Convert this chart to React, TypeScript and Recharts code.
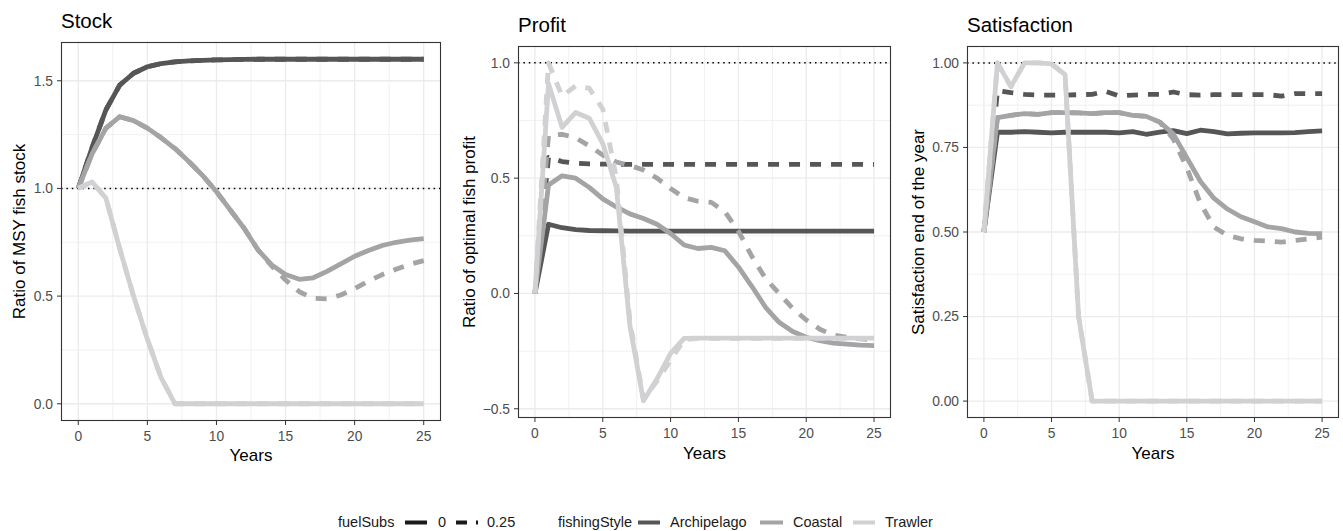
import { LineChart, Line, XAxis, YAxis, CartesianGrid, ReferenceLine } from "recharts";

const years = [0, 1, 2, 3, 4, 5, 6, 7, 8, 9, 10, 11, 12, 13, 14, 15, 16, 17, 18, 19, 20, 21, 22, 23, 24, 25];

// Stock (ratio of MSY fish stock)
const stockArch0 = [1.0, 1.19, 1.365, 1.48, 1.535, 1.565, 1.58, 1.588, 1.592, 1.595, 1.597, 1.598, 1.599, 1.6, 1.6, 1.6, 1.6, 1.6, 1.6, 1.6, 1.6, 1.6, 1.6, 1.6, 1.6, 1.6];
const stockArch25 = [1.0, 1.19, 1.365, 1.48, 1.535, 1.565, 1.58, 1.588, 1.592, 1.595, 1.597, 1.598, 1.599, 1.6, 1.6, 1.6, 1.6, 1.6, 1.6, 1.6, 1.6, 1.6, 1.6, 1.6, 1.6, 1.6];
const stockCoast0 = [1.0, 1.16, 1.28, 1.333, 1.315, 1.28, 1.235, 1.185, 1.125, 1.06, 0.985, 0.9, 0.815, 0.715, 0.645, 0.6, 0.578, 0.585, 0.615, 0.65, 0.685, 0.712, 0.735, 0.75, 0.76, 0.767];
const stockCoast25 = [1.0, 1.16, 1.28, 1.333, 1.315, 1.28, 1.235, 1.185, 1.125, 1.06, 0.985, 0.9, 0.815, 0.715, 0.64, 0.575, 0.52, 0.49, 0.487, 0.505, 0.535, 0.57, 0.6, 0.625, 0.648, 0.665];
const stockTrawl0 = [1.0, 1.03, 0.955, 0.72, 0.5, 0.3, 0.12, 0.0, 0, 0, 0, 0, 0, 0, 0, 0, 0, 0, 0, 0, 0, 0, 0, 0, 0, 0];
const stockTrawl25 = [1.0, 1.03, 0.955, 0.72, 0.5, 0.3, 0.12, 0.0, 0, 0, 0, 0, 0, 0, 0, 0, 0, 0, 0, 0, 0, 0, 0, 0, 0, 0];

// Profit (ratio of optimal fish profit)
const profitArch0 = [0, 0.3, 0.285, 0.277, 0.273, 0.272, 0.271, 0.27, 0.27, 0.27, 0.27, 0.27, 0.27, 0.27, 0.27, 0.27, 0.27, 0.27, 0.27, 0.27, 0.27, 0.27, 0.27, 0.27, 0.27, 0.27];
const profitArch25 = [0, 0.59, 0.572, 0.565, 0.562, 0.561, 0.56, 0.56, 0.56, 0.56, 0.56, 0.56, 0.56, 0.56, 0.56, 0.56, 0.56, 0.56, 0.56, 0.56, 0.56, 0.56, 0.56, 0.56, 0.56, 0.56];
const profitCoast0 = [0, 0.47, 0.51, 0.5, 0.46, 0.41, 0.375, 0.345, 0.325, 0.3, 0.26, 0.21, 0.195, 0.2, 0.185, 0.115, 0.03, -0.06, -0.125, -0.165, -0.19, -0.205, -0.215, -0.22, -0.224, -0.226];
const profitCoast25 = [0, 0.685, 0.69, 0.675, 0.64, 0.6, 0.57, 0.555, 0.535, 0.5, 0.455, 0.415, 0.4, 0.395, 0.355, 0.27, 0.16, 0.065, 0.0, -0.065, -0.115, -0.155, -0.18, -0.19, -0.197, -0.2];
const profitTrawl0 = [0, 0.91, 0.72, 0.785, 0.76, 0.65, 0.46, -0.14, -0.465, -0.37, -0.26, -0.195, -0.194, -0.194, -0.194, -0.194, -0.194, -0.194, -0.194, -0.194, -0.194, -0.194, -0.194, -0.194, -0.194, -0.194];
const profitTrawl25 = [0, 1.0, 0.855, 0.9, 0.89, 0.8, 0.5, -0.12, -0.46, -0.38, -0.29, -0.2, -0.195, -0.195, -0.195, -0.195, -0.195, -0.195, -0.195, -0.195, -0.195, -0.195, -0.195, -0.195, -0.195, -0.195];

// Satisfaction end of the year
const satArch0 = [0.5, 0.795, 0.795, 0.797, 0.795, 0.793, 0.795, 0.795, 0.795, 0.795, 0.793, 0.797, 0.789, 0.795, 0.8, 0.791, 0.801, 0.797, 0.79, 0.792, 0.793, 0.793, 0.793, 0.794, 0.797, 0.799];
const satArch25 = [0.5, 0.918, 0.912, 0.907, 0.905, 0.905, 0.905, 0.906, 0.907, 0.916, 0.902, 0.905, 0.907, 0.907, 0.914, 0.906, 0.905, 0.906, 0.906, 0.906, 0.906, 0.906, 0.902, 0.909, 0.909, 0.909];
const satCoast0 = [0.5, 0.838, 0.845, 0.85, 0.848, 0.853, 0.853, 0.852, 0.85, 0.853, 0.853, 0.845, 0.842, 0.825, 0.79, 0.72, 0.65, 0.6, 0.568, 0.545, 0.53, 0.515, 0.51, 0.5, 0.496, 0.495];
const satCoast25 = [0.5, 0.838, 0.845, 0.85, 0.848, 0.853, 0.853, 0.852, 0.85, 0.853, 0.853, 0.845, 0.842, 0.825, 0.775, 0.69, 0.585, 0.515, 0.49, 0.48, 0.475, 0.473, 0.47, 0.475, 0.48, 0.485];
const satTrawl0 = [0.5, 1.0, 0.93, 1.0, 1.0, 0.997, 0.965, 0.25, 0.0, 0, 0, 0, 0, 0, 0, 0, 0, 0, 0, 0, 0, 0, 0, 0, 0, 0];
const satTrawl25 = [0.5, 1.0, 0.93, 1.0, 1.0, 0.997, 0.965, 0.25, 0.0, 0, 0, 0, 0, 0, 0, 0, 0, 0, 0, 0, 0, 0, 0, 0, 0, 0];

const xTicks = [0, 5, 10, 15, 20, 25];
const xMinor = [2.5, 7.5, 12.5, 17.5, 22.5];

const ARCH = "#565656";
const COAST = "#a4a4a6";
const TRAWL = "#d1d1d3";
const FONT = '"Liberation Sans", Arial, Helvetica, sans-serif';
const LW = 4.8;

function rows(a0: number[], a25: number[], c0: number[], c25: number[], t0: number[], t25: number[]) {
  return years.map((year, i) => ({
    year,
    a0: a0[i], a25: a25[i], c0: c0[i], c25: c25[i], t0: t0[i], t25: t25[i],
  }));
}

interface PanelProps {
  data: ReturnType<typeof rows>;
  left: number;
  plotTop: number;
  plotBottom: number;
  plotRight: number;
  domain: [number, number];
  ticks: number[];
  minor: number[];
  fmt: (v: number) => string;
}

const Y_W = 60;
const X_H = 30;

function Panel({ data, left, plotTop, plotBottom, plotRight, domain, ticks, minor, fmt }: PanelProps) {
  const width = plotRight + 2 - left;
  const height = plotBottom + X_H;
  const dash = "11 10";
  return (
    <div style={{ position: "absolute", left, top: 0 }}>
      <LineChart width={width} height={height} data={data} margin={{ top: plotTop, right: 2, bottom: 0, left: 0 }}>
        <CartesianGrid stroke="#ebebeb" strokeWidth={0.7} horizontalValues={minor} verticalValues={xMinor} />
        <CartesianGrid stroke="#ebebeb" strokeWidth={1.3} horizontalValues={ticks} verticalValues={xTicks} />
        <XAxis
          type="number"
          dataKey="year"
          domain={[-1.25, 26.25]}
          ticks={xTicks}
          allowDataOverflow
          axisLine={false}
          tickSize={4}
          tickMargin={6}
          height={X_H}
          tickLine={{ stroke: "#333333" }}
          tick={{ fill: "#4d4d4d", fontSize: 13.8, fontFamily: FONT }}
        />
        <YAxis
          type="number"
          domain={domain}
          ticks={ticks}
          allowDataOverflow
          axisLine={false}
          width={Y_W}
          tickSize={4}
          tickMargin={4}
          tickFormatter={fmt}
          tickLine={{ stroke: "#333333" }}
          tick={{ fill: "#4d4d4d", fontSize: 13.8, fontFamily: FONT }}
        />
        <ReferenceLine y={1} stroke="#000" strokeWidth={1.5} strokeDasharray="1.5 3.9" />
        <Line type="linear" dataKey="a0" stroke={ARCH} strokeWidth={LW} dot={false} isAnimationActive={false} strokeLinejoin="round" />
        <Line type="linear" dataKey="a25" stroke={ARCH} strokeWidth={LW} strokeDasharray={dash} dot={false} isAnimationActive={false} strokeLinejoin="round" />
        <Line type="linear" dataKey="c0" stroke={COAST} strokeWidth={LW} dot={false} isAnimationActive={false} strokeLinejoin="round" />
        <Line type="linear" dataKey="c25" stroke={COAST} strokeWidth={LW} strokeDasharray={dash} dot={false} isAnimationActive={false} strokeLinejoin="round" />
        <Line type="linear" dataKey="t0" stroke={TRAWL} strokeWidth={LW} dot={false} isAnimationActive={false} strokeLinejoin="round" />
        <Line type="linear" dataKey="t25" stroke={TRAWL} strokeWidth={LW} strokeDasharray={dash} dot={false} isAnimationActive={false} strokeLinejoin="round" />
      </LineChart>
    </div>
  );
}

const minus = (s: string) => s.replace("-", "\u2212");

export default function App() {
  const stock = rows(stockArch0, stockArch25, stockCoast0, stockCoast25, stockTrawl0, stockTrawl25);
  const profit = rows(profitArch0, profitArch25, profitCoast0, profitCoast25, profitTrawl0, profitTrawl25);
  const sat = rows(satArch0, satArch25, satCoast0, satCoast25, satTrawl0, satTrawl25);

  return (
    <div style={{ position: "absolute", left: 0, top: 0, width: 1343, height: 531, background: "#fff", fontFamily: FONT }}>
      <Panel data={stock} left={61 - Y_W} plotTop={42} plotBottom={421} plotRight={441}
        domain={[-0.08, 1.68]} ticks={[0, 0.5, 1, 1.5]} minor={[0.25, 0.75, 1.25]} fmt={(v) => v.toFixed(1)} />
      <Panel data={profit} left={518 - Y_W} plotTop={46} plotBottom={418} plotRight={891}
        domain={[-0.54, 1.073]} ticks={[-0.5, 0, 0.5, 1]} minor={[-0.25, 0.25, 0.75]} fmt={(v) => minus(v.toFixed(1))} />
      <Panel data={sat} left={967 - Y_W} plotTop={46} plotBottom={418} plotRight={1339}
        domain={[-0.05, 1.05]} ticks={[0, 0.25, 0.5, 0.75, 1]} minor={[0.125, 0.375, 0.625, 0.875]} fmt={(v) => v.toFixed(2)} />

      <svg width={1343} height={531} style={{ position: "absolute", left: 0, top: 0, pointerEvents: "none" }} fontFamily={FONT}>
        {/* panel borders */}
        <rect x={61.5} y={42.5} width={379} height={378} fill="none" stroke="#333" strokeWidth={1.1} />
        <rect x={518.5} y={46.5} width={372} height={371} fill="none" stroke="#333" strokeWidth={1.1} />
        <rect x={967.5} y={46.5} width={371} height={371} fill="none" stroke="#333" strokeWidth={1.1} />

        <text x={61} y={28.3} fontSize={20.5} fill="#000">Stock</text>
        <text x={518} y={32.3} fontSize={20.5} fill="#000">Profit</text>
        <text x={967} y={32.3} fontSize={20.5} fill="#000">Satisfaction</text>

        <text x={251} y={460.5} fontSize={17} textAnchor="middle" fill="#000">Years</text>
        <text x={704.5} y={458.5} fontSize={17} textAnchor="middle" fill="#000">Years</text>
        <text x={1153} y={458.5} fontSize={17} textAnchor="middle" fill="#000">Years</text>

        <text x={25} y={231.5} fontSize={17} textAnchor="middle" fill="#000" transform="rotate(-90 25 231.5)">Ratio of MSY fish stock</text>
        <text x={474.5} y={232} fontSize={17} textAnchor="middle" fill="#000" transform="rotate(-90 474.5 232)">Ratio of optimal fish profit</text>
        <text x={923.5} y={232} fontSize={17} textAnchor="middle" fill="#000" transform="rotate(-90 923.5 232)">Satisfaction end of the year</text>

        {/* legend */}
        <g fontSize={14.5} fill="#1a1a1a">
          <text x={338} y={527}>fuelSubs</text>
          <line x1={405} x2={427} y1={522.5} y2={522.5} stroke="#1a1a1a" strokeWidth={4} />
          <text x={438} y={527}>0</text>
          <line x1={456} x2={478} y1={522.5} y2={522.5} stroke="#1a1a1a" strokeWidth={4} strokeDasharray="11 9" />
          <text x={487} y={527}>0.25</text>
          <text x={558} y={527}>fishingStyle</text>
          <line x1={638} x2={660} y1={522.5} y2={522.5} stroke={ARCH} strokeWidth={4} />
          <text x={670} y={527}>Archipelago</text>
          <line x1={760} x2={783} y1={522.5} y2={522.5} stroke={COAST} strokeWidth={4} />
          <text x={793} y={527}>Coastal</text>
          <line x1={853} x2={875} y1={522.5} y2={522.5} stroke={TRAWL} strokeWidth={4} />
          <text x={885} y={527}>Trawler</text>
        </g>
      </svg>
    </div>
  );
}
